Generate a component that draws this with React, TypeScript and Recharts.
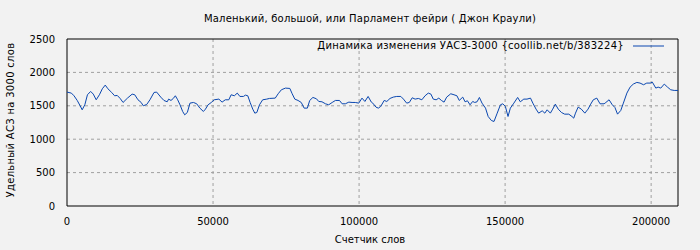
import React from "react";
import {
  LineChart, Line, XAxis, YAxis, CartesianGrid, ReferenceArea, Legend,
} from "recharts";

// ─── Data ─────────────────────────────────────────────────────────────────────

const title = "Маленький, большой, или Парламент фейри ( Джон Краули)";
const seriesName = "Динамика изменения УАСЗ-3000 {coollib.net/b/383224}";
const xAxisTitle = "Счетчик слов";
const yAxisTitle = "Удельный АСЗ на 3000 слов";

const xTicks = [0, 50000, 100000, 150000, 200000];
const yTicks = [0, 500, 1000, 1500, 2000, 2500];

// word counter position
const wordCount = [
  0, 1500, 2400, 3500, 4500, 5200, 6100, 7000, 8100, 9000,
  10000, 11100, 12100, 13100, 14000, 15300, 16300, 17200, 18200, 19200,
  20700, 22300, 23200, 24300, 25400, 26100, 27300, 28400, 29800, 30700,
  32100, 33200, 34300, 34800, 35600, 36400, 37100, 37900, 38700, 39600,
  40300, 41200, 42100, 43300, 44400, 45500, 46700, 47400, 48300, 49400,
  50400, 52000, 53100, 54200, 55400, 56200, 57300, 58300, 59200, 60400,
  61100, 61900, 62700, 63600, 64300, 65000, 65900, 67000, 68400, 69300,
  71300, 72300, 73400, 74800, 76300, 77100, 78000, 79100, 80200, 81200,
  82300, 83100, 84200, 85400, 86200, 87300, 88500, 89600, 90800, 91900,
  93300, 94200, 95300, 96500, 97600, 98700, 99900, 101000, 102000, 103100,
  104200, 104700, 105800, 106600, 107400, 108600, 109500, 110600, 111700, 112900,
  114300, 115200, 116300, 117200, 118200, 119200, 120300, 121500, 122600, 123700,
  124600, 125400, 126400, 127300, 128200, 129100, 130000, 131400, 132500, 133500,
  134300, 135500, 136300, 137100, 138000, 138900, 139600, 140400, 141200, 142100,
  143300, 144200, 145300, 146200, 147300, 148400, 149200, 150100, 151000, 151800,
  153000, 154300, 155200, 156400, 157500, 158700, 159500, 160600, 161500, 162700,
  163600, 164400, 165500, 166300, 167200, 168200, 169300, 170400, 171800, 172900,
  173500, 174100, 175000, 176100, 177300, 178400, 179300, 180200, 181400, 182500,
  183900, 184500, 185600, 186700, 187600, 188500, 189600, 190500, 191700, 192800,
  193900, 195100, 196200, 197400, 198500, 199700, 200400, 201600, 202400, 203300,
  204500, 205600, 206700, 207900, 209200,
];

// specific density per 3000 words
const density = [
  1705, 1690, 1650, 1580, 1500, 1440, 1515, 1665, 1715, 1675,
  1590, 1665, 1755, 1810, 1755, 1700, 1650, 1655, 1610, 1550,
  1615, 1675, 1665, 1590, 1550, 1500, 1520, 1590, 1700, 1705,
  1630, 1580, 1560, 1600, 1580, 1610, 1650, 1590, 1515, 1415,
  1365, 1400, 1540, 1550, 1530, 1465, 1415, 1450, 1515, 1550,
  1590, 1600, 1555, 1590, 1590, 1665, 1650, 1690, 1640, 1640,
  1660, 1650, 1550, 1450, 1390, 1400, 1515, 1590, 1600, 1610,
  1615, 1680, 1740, 1765, 1760, 1680, 1600, 1580, 1550, 1465,
  1465, 1580, 1625, 1605, 1565, 1560, 1530, 1515, 1550, 1580,
  1580, 1530, 1530, 1555, 1550, 1550, 1540, 1615, 1565, 1640,
  1555, 1540, 1480, 1465, 1490, 1580, 1565, 1610, 1630, 1640,
  1640, 1600, 1540, 1550, 1620, 1600, 1610, 1590, 1650, 1690,
  1675, 1600, 1590, 1615, 1580, 1555, 1630, 1680, 1665, 1650,
  1580, 1630, 1560, 1575, 1515, 1565, 1550, 1560, 1625, 1540,
  1465, 1340, 1280, 1265, 1390, 1515, 1530, 1490, 1340, 1465,
  1540, 1625, 1560, 1600, 1600, 1615, 1540, 1450, 1390, 1425,
  1390, 1440, 1390, 1450, 1525, 1450, 1400, 1375, 1375, 1340,
  1315, 1390, 1480, 1450, 1390, 1450, 1525, 1590, 1615, 1530,
  1530, 1550, 1590, 1515, 1475, 1375, 1430, 1540, 1690, 1780,
  1825, 1850, 1840, 1815, 1840, 1840, 1855, 1765, 1780, 1765,
  1825, 1780, 1740, 1730, 1730,
];

const chartData = wordCount.map((x, i) => ({ x, y: density[i] }));

// ─── Styling ──────────────────────────────────────────────────────────────────

const FONT = "'DejaVu Sans', sans-serif";
const BG = "#f2f2f2";
const LINE = "#0a47b0";
const X_MAX = wordCount[wordCount.length - 1];

function SeriesLegend() {
  return (
    <div style={{ display: "flex", alignItems: "center", fontFamily: FONT, fontSize: 10, color: "#000", whiteSpace: "nowrap", letterSpacing: 0.3 }}>
      <span>{seriesName}</span>
      <svg width={31} height={8} style={{ marginLeft: 9 }}>
        <line x1={0} y1={4} x2={31} y2={4} stroke={LINE} strokeWidth={1} />
      </svg>
    </div>
  );
}

export default function App() {
  return (
    <div style={{ position: "absolute", left: 0, top: 0, width: 700, height: 250, background: BG, fontFamily: FONT }}>
      <div style={{ position: "absolute", left: 0, top: 13, width: 740, textAlign: "center", fontSize: 10, color: "#000", letterSpacing: 0.2 }}>
        {title}
      </div>
      <div style={{
        position: "absolute", left: 10, top: 120, fontSize: 10, color: "#000", whiteSpace: "nowrap", letterSpacing: 0.3,
        transform: "translate(-50%, -50%) rotate(-90deg)",
      }}>
        {yAxisTitle}
      </div>
      <div style={{ position: "absolute", left: 0, top: 234, width: 740, textAlign: "center", fontSize: 10, color: "#000" }}>
        {xAxisTitle}
      </div>
      <LineChart
        width={700}
        height={250}
        data={chartData}
        margin={{ top: 39, right: 22, left: 20, bottom: 14 }}
      >
        <CartesianGrid stroke="#a0a0a0" strokeDasharray="3 3" horizontalValues={[500, 1000, 1500, 2000]} verticalValues={[50000, 100000, 150000, 200000]} />
        <XAxis
          dataKey="x"
          type="number"
          domain={[0, X_MAX]}
          ticks={xTicks}
          height={30}
          tick={{ fill: "#000", fontSize: 10, fontFamily: FONT }}
          tickLine={false}
          tickMargin={6}
          axisLine={false}
        />
        <YAxis
          type="number"
          domain={[0, 2500]}
          ticks={yTicks}
          width={47}
          tick={{ fill: "#000", fontSize: 10, fontFamily: FONT }}
          tickLine={false}
          tickMargin={6}
          axisLine={false}
        />
        <ReferenceArea x1={0} x2={X_MAX} y1={0} y2={2500} fill="none" stroke="#000" strokeWidth={1} />
        <Legend
          verticalAlign="middle"
          align="center"
          content={() => <SeriesLegend />}
          wrapperStyle={{ top: 40, right: 36, left: "auto", width: "auto", height: 14 }}
        />
        <Line
          type="linear"
          dataKey="y"
          name={seriesName}
          stroke={LINE}
          strokeWidth={1}
          dot={false}
          isAnimationActive={false}
        />
      </LineChart>
    </div>
  );
}
